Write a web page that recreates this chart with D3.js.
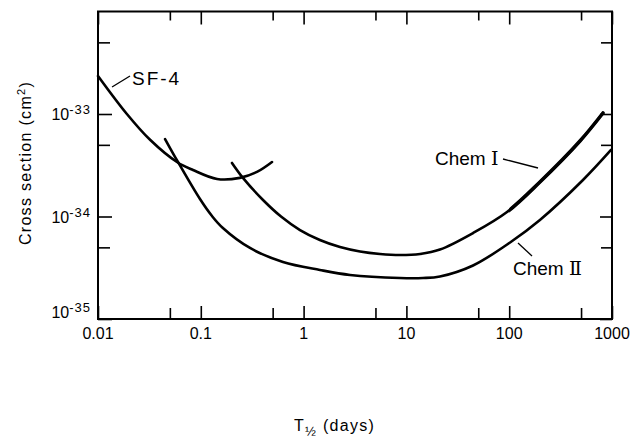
<!DOCTYPE html>
<html><head><meta charset="utf-8">
<script src="https://cdn.jsdelivr.net/npm/d3@7"></script>
<style>body{margin:0;background:#fff}svg{display:block}</style>
</head><body><svg id="c" width="635" height="441"></svg>
<script>
const xTicksMajor = [0.01, 0.1, 1, 10, 100, 1000];
const xTickLabels = ["0.01", "0.1", "1", "10", "100", "1000"];
const xTicksMinor = [0.05, 0.5, 5, 50, 500];
const yTicksMajor = [1e-35, 1e-34, 1e-33];
const yTickExponents = ["-35", "-34", "-33"];
const yTicksMinor = [5e-35, 5e-34, 5e-33];

const sf4X = [0.01, 0.0191, 0.0321, 0.0586, 0.084, 0.144, 0.24, 0.352, 0.493];
const sf4Y = [2.35e-33, 1.0e-33, 5.6e-34, 3.4e-34, 2.84e-34, 2.32e-34, 2.38e-34, 2.72e-34, 3.4e-34];

const chem1X = [0.201, 0.257, 0.403, 0.603, 0.923, 1.44, 2.26, 3.54, 5.54, 8.67, 13.6, 21.2, 44.5, 95.2, 199, 488, 817];
const chem1Y = [3.33e-34, 2.38e-34, 1.45e-34, 1.0e-34, 7.38e-35, 5.9e-35, 5.04e-35, 4.56e-35, 4.31e-35, 4.21e-35, 4.31e-35, 4.76e-35, 6.9e-35, 1.106e-34, 2.17e-34, 5.45e-34, 1.023e-33];

const chem2X = [0.0449, 0.060, 0.0982, 0.1285, 0.164, 0.301, 0.63, 1.44, 2.83, 8.67, 14.5, 21.2, 44.5, 102, 199, 522, 978];
const chem2Y = [5.7e-34, 3.4e-34, 1.48e-34, 1.01e-34, 7.72e-35, 4.93e-35, 3.6e-35, 3.01e-35, 2.69e-35, 2.51e-35, 2.51e-35, 2.6e-35, 3.33e-35, 5.58e-35, 9.25e-35, 2.27e-34, 4.46e-34];

const svg = d3.select("#c");
const L = 98, R = 612, T = 11.5, B = 319;
const x = d3.scaleLog().domain([0.01, 1000]).range([L, R]);
const y = d3.scaleLog().domain([1e-35, 1e-32]).range([B, T]);
const font = "'Liberation Sans', Arial, sans-serif";

function styleAxis(g) {
  g.select(".domain").remove();
  g.selectAll(".tick line").attr("stroke", "#000").attr("stroke-width", 1.6);
  g.selectAll(".tick text").remove();
}
svg.append("g").attr("transform", `translate(0,${B})`)
  .call(d3.axisBottom(x).tickValues(xTicksMajor).tickSize(-13)).call(styleAxis);
svg.append("g").attr("transform", `translate(0,${B})`)
  .call(d3.axisBottom(x).tickValues(xTicksMinor).tickSize(-11)).call(styleAxis);
svg.append("g").attr("transform", `translate(0,${T})`)
  .call(d3.axisTop(x).tickValues(xTicksMajor).tickSize(-13)).call(styleAxis);
svg.append("g").attr("transform", `translate(0,${T})`)
  .call(d3.axisTop(x).tickValues(xTicksMinor).tickSize(-9)).call(styleAxis);
svg.append("g").attr("transform", `translate(${L},0)`)
  .call(d3.axisLeft(y).tickValues(yTicksMajor).tickSize(-14)).call(styleAxis);
svg.append("g").attr("transform", `translate(${L},0)`)
  .call(d3.axisLeft(y).tickValues(yTicksMinor).tickSize(-12)).call(styleAxis);
svg.append("g").attr("transform", `translate(${R},0)`)
  .call(d3.axisRight(y).tickValues(yTicksMajor).tickSize(-12)).call(styleAxis);
svg.append("g").attr("transform", `translate(${R},0)`)
  .call(d3.axisRight(y).tickValues(yTicksMinor).tickSize(-11)).call(styleAxis);

svg.append("rect").attr("x", L).attr("y", T).attr("width", R - L).attr("height", B - T)
  .attr("fill", "none").attr("stroke", "#000").attr("stroke-width", 2);

svg.append("g").selectAll("text").data(xTicksMajor).join("text")
  .attr("x", d => x(d)).attr("y", 339).attr("text-anchor", "middle")
  .attr("font-family", font).attr("font-size", 16).text((d, i) => xTickLabels[i]);

const yl = svg.append("g").selectAll("text").data(yTicksMajor).join("text")
  .attr("x", 91).attr("y", d => Math.min(y(d) + 6, 318)).attr("text-anchor", "end")
  .attr("font-family", font).attr("font-size", 16);
yl.append("tspan").text("10");
yl.append("tspan").attr("dy", -6).attr("font-size", 13).attr("letter-spacing", 1).text((d, i) => yTickExponents[i]);

const yt = svg.append("text").attr("transform", "translate(31,163) rotate(-90)")
  .attr("text-anchor", "middle").attr("font-family", font).attr("font-size", 16)
  .attr("letter-spacing", 1.3);
yt.append("tspan").text("Cross  section  (cm");
yt.append("tspan").attr("dy", -6).attr("font-size", 11).text("2");
yt.append("tspan").attr("dy", 6).text(")");

const xt = svg.append("text").attr("x", 294).attr("y", 431)
  .attr("font-family", font).attr("font-size", 16).attr("letter-spacing", 1.3);
xt.append("tspan").text("T");
xt.append("tspan").attr("dy", 5).attr("font-size", 13).text("½");
xt.append("tspan").attr("dy", -5).text(" (days)");

const line = d3.line().x(d => x(d[0])).y(d => y(d[1])).curve(d3.curveCatmullRom.alpha(0.5));
svg.append("clipPath").attr("id", "heavy").append("rect")
  .attr("x", x(100)).attr("y", 0).attr("width", 635).attr("height", 441);
function draw(xs, ys, w, clip) {
  const p = svg.append("path").datum(xs.map((v, i) => [v, ys[i]]))
    .attr("d", line).attr("fill", "none").attr("stroke", "#000")
    .attr("stroke-width", w).attr("stroke-linecap", "round").attr("stroke-linejoin", "round");
  if (clip) p.attr("clip-path", "url(#heavy)");
}
draw(sf4X, sf4Y, 2.6);
draw(chem2X, chem2Y, 2.6);
draw(chem1X, chem1Y, 2.6);
draw(chem1X, chem1Y, 3.6, true);

function lab(px, py, txt, num) {
  const t = svg.append("text").attr("x", px).attr("y", py).attr("font-family", font).attr("font-size", 19);
  t.append("tspan").text(txt);
  if (num) t.append("tspan").attr("font-family", "'DejaVu Serif', serif").attr("font-size", 19).text(num);
  return t;
}
lab(132, 85, "SF-4").attr("letter-spacing", 2);
svg.append("line").attr("x1", 112).attr("y1", 87).attr("x2", 130).attr("y2", 76).attr("stroke", "#000").attr("stroke-width", 1.3);
lab(435, 165, "Chem ", "Ⅰ");
svg.append("line").attr("x1", 503).attr("y1", 159).attr("x2", 538).attr("y2", 168).attr("stroke", "#000").attr("stroke-width", 1.3);
lab(513, 275, "Chem ", "Ⅱ");
svg.append("line").attr("x1", 518).attr("y1", 243).attr("x2", 532).attr("y2", 256).attr("stroke", "#000").attr("stroke-width", 1.3);
</script></body></html>
